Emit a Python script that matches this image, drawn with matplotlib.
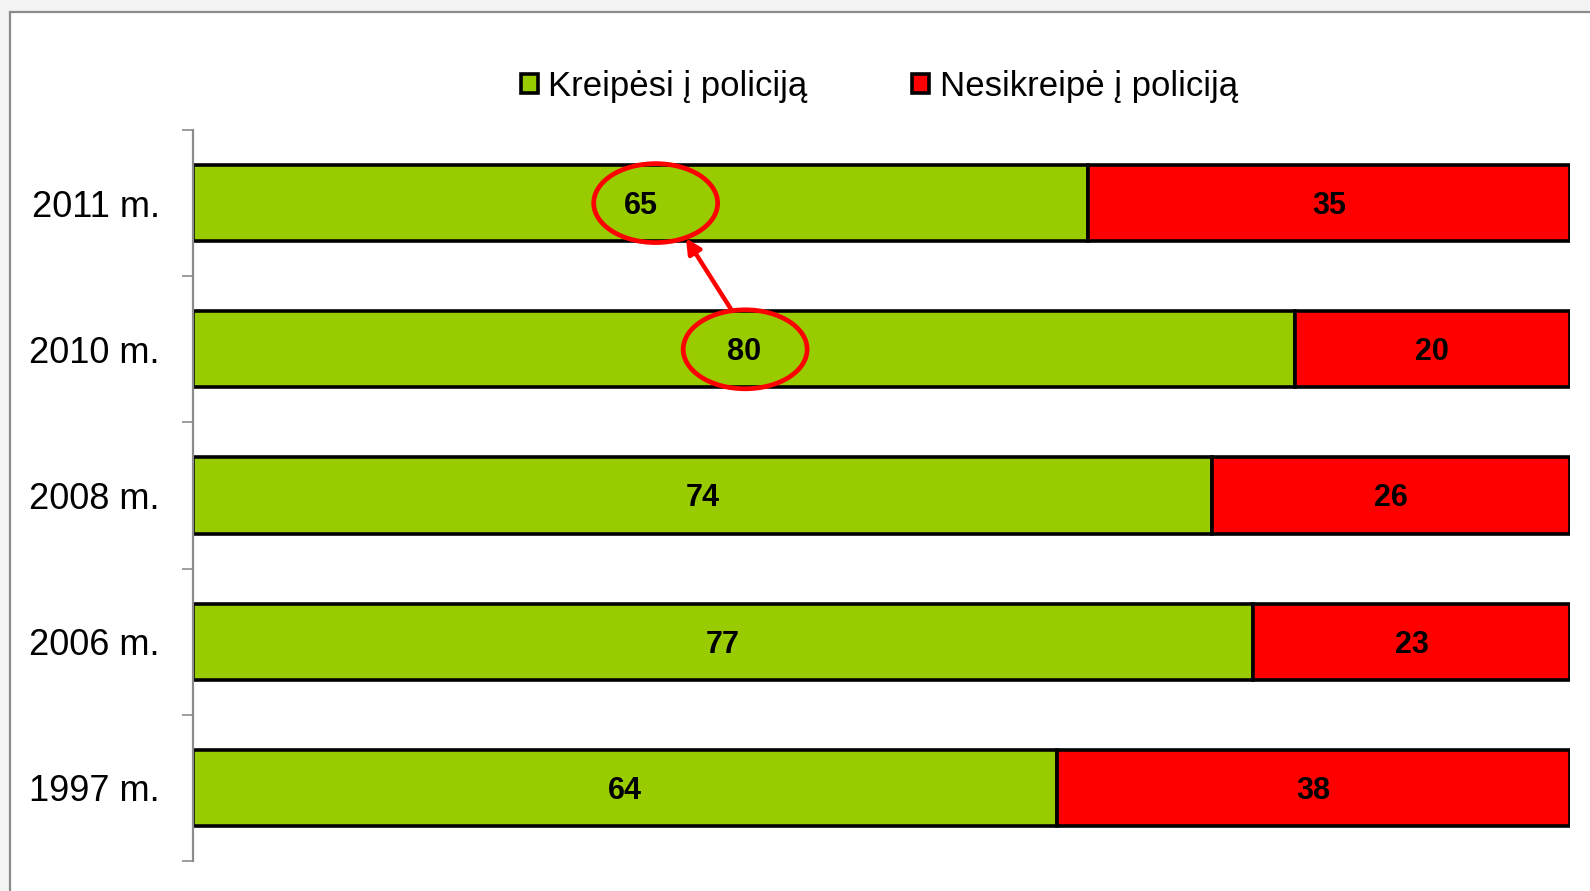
import matplotlib.pyplot as plt
from matplotlib.patches import Ellipse, Rectangle
import numpy as np

plt.rcParams['font.family'] = ['Liberation Sans', 'DejaVu Sans']

years = ["2011 m.", "2010 m.", "2008 m.", "2006 m.", "1997 m."]
kreipesi = [65, 80, 74, 77, 64]
nesikreipe = [35, 20, 26, 23, 38]
series_names = ["Kreipėsi į policiją", "Nesikreipė į policiją"]

green = '#99CC00'
red = '#FF0000'

fig = plt.figure(figsize=(15.9, 8.91), dpi=100, facecolor='#f3f3f3')

# white chart area with grey frame
fig.patches.append(Rectangle((10 / 1590, -0.05), 1.1, 1 - 12 / 891 + 0.05,
                             transform=fig.transFigure, facecolor='white',
                             edgecolor='#8c8c8c', linewidth=1.6, zorder=-10))

ax = fig.add_axes([193 / 1590, 30 / 891, (1570 - 193) / 1590, (861 - 130) / 891])
ax.set_facecolor('none')

g = np.array(kreipesi, dtype=float)
r = np.array(nesikreipe, dtype=float)
tot = g + r
gp = g / tot * 100
rp = r / tot * 100
y = np.arange(len(years))

ax.barh(y, gp, height=0.52, color=green, edgecolor='black', linewidth=2.6,
        label=series_names[0])
ax.barh(y, rp, left=gp, height=0.52, color=red, edgecolor='black', linewidth=2.6,
        label=series_names[1])

for i in range(len(years)):
    ax.text(gp[i] / 2, y[i] + 0.02, str(kreipesi[i]), ha='center', va='center',
            fontsize=22, fontweight='bold')
    ax.text(gp[i] + rp[i] / 2, y[i] + 0.02, str(nesikreipe[i]), ha='center',
            va='center', fontsize=22, fontweight='bold')

ax.set_xlim(0, 100)
ax.set_ylim(len(years) - 0.5, -0.5)
ax.set_yticks(y)
ax.set_yticklabels(years, fontsize=26)
ax.set_yticks(np.arange(-0.5, len(years)), minor=True)
ax.tick_params(axis='y', which='major', length=0, pad=24)
ax.tick_params(axis='y', which='minor', length=8, width=1.2, color='#8c8c8c')
ax.set_xticks([])
for s in ['top', 'right', 'bottom']:
    ax.spines[s].set_visible(False)
ax.spines['left'].set_color('#8c8c8c')
ax.spines['left'].set_linewidth(1.6)
ax.spines['left'].set_bounds(-0.5, len(years) - 0.5)

# highlight change 2010 -> 2011
ax.add_patch(Ellipse((33.6, 0.0), 9.0, 0.54, fill=False, edgecolor=red,
                     linewidth=3.4, zorder=5))
ax.add_patch(Ellipse((40.1, 1.0), 9.0, 0.54, fill=False, edgecolor=red,
                     linewidth=3.4, zorder=5))
ax.annotate('', xy=(35.8, 0.24), xytext=(39.1, 0.73),
            arrowprops=dict(arrowstyle='-|>', color=red, lw=3.2,
                            mutation_scale=22, shrinkA=0, shrinkB=0), zorder=6)

fig.legend(loc='center', bbox_to_anchor=(0.553, 0.903), ncol=2, frameon=False,
           fontsize=25, handlelength=0.5, handleheight=0.5, handletextpad=0.3,
           columnspacing=3.0)

fig.savefig('out.png', dpi=100, facecolor=fig.get_facecolor())
